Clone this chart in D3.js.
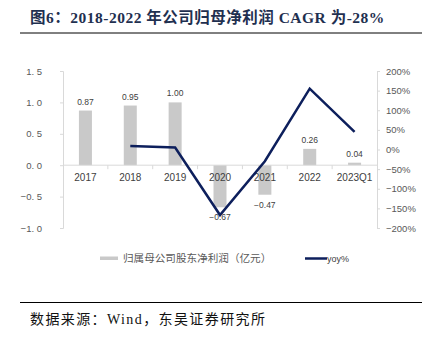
<!DOCTYPE html>
<html><head><meta charset="utf-8">
<script src="https://cdn.jsdelivr.net/npm/d3@7"></script>
<style>body{margin:0;background:#fff}svg{display:block}</style>
</head><body><svg id="c" width="432" height="338"></svg>
<script>
const categories = ["2017","2018","2019","2020","2021","2022","2023Q1"];
const profit = [0.87,0.95,1.00,-0.67,-0.47,0.26,0.04];
const yoy = [null,0.09,0.05,-1.67,-0.30,1.55,0.45];
const leftTicks = [-1.0,-0.5,0,0.5,1.0,1.5];
const rightTicks = [-2,-1.5,-1,-0.5,0,0.5,1,1.5,2];

const svg = d3.select("#c");
const cjk = "'Liberation Serif','Noto Sans CJK SC',serif";
const sans = "'Liberation Sans',Arial,sans-serif";

// title
svg.append("text").attr("x",30).attr("y",22.5).attr("font-family",cjk).attr("font-weight","bold")
  .attr("font-size",15.5).attr("letter-spacing",0.5).attr("fill","#1f3050").text("图6：2018-2022 年公司归母净利润 CAGR 为-28%");
svg.append("line").attr("x1",20).attr("x2",422).attr("y1",33).attr("y2",33).attr("stroke","#000").attr("stroke-width",1);
svg.append("line").attr("x1",20).attr("x2",422).attr("y1",302.5).attr("y2",302.5).attr("stroke","#000").attr("stroke-width",1);
svg.append("text").attr("x",30).attr("y",324).attr("font-family",cjk).attr("font-size",14)
  .attr("letter-spacing",1.4).attr("fill","#111").text("数据来源：Wind，东吴证券研究所");

const x = d3.scaleBand().domain(categories).range([63,377]).padding(0);
const yL = d3.scaleLinear().domain([-1,1.5]).range([228,71]);
const yR = d3.scaleLinear().domain([-2,2]).range([228,71]);
const axisCol = "#d9d9d9", txtCol = "#595959";

// left axis
const gl = svg.append("g").attr("transform","translate(63,0)")
  .call(d3.axisLeft(yL).tickValues(leftTicks).tickSize(3).tickPadding(18)
    .tickFormat(d=>d3.format(".1f")(d).replace("-","−").replace(".",". ")));
gl.select(".domain").attr("stroke",axisCol);
gl.selectAll(".tick line").attr("stroke",axisCol);
gl.selectAll("text").attr("font-family",sans).attr("font-size",9.5).attr("fill",txtCol);

// right axis
const gr = svg.append("g").attr("transform","translate(377,0)")
  .call(d3.axisRight(yR).tickValues(rightTicks).tickSize(3).tickPadding(6)
    .tickFormat(d=>d3.format(".0%")(d).replace("-","−")));
gr.select(".domain").attr("stroke",axisCol);
gr.selectAll(".tick line").attr("stroke",axisCol);
gr.selectAll("text").attr("font-family",sans).attr("font-size",9.5).attr("fill",txtCol);

// bars
const bw = x.bandwidth()*0.29;
svg.append("g").selectAll("rect").data(profit).join("rect")
  .attr("x",(d,i)=>x(categories[i])+x.bandwidth()/2-bw/2)
  .attr("y",d=>yL(Math.max(0,d)))
  .attr("width",bw)
  .attr("height",d=>Math.abs(yL(d)-yL(0)))
  .attr("fill","#c9c9c9");

// x axis
const y0 = yL(0);
svg.append("line").attr("x1",63).attr("x2",377).attr("y1",y0).attr("y2",y0).attr("stroke",axisCol);
svg.append("g").selectAll("line").data(categories.slice(1)).join("line")
  .attr("x1",d=>x(d)).attr("x2",d=>x(d)).attr("y1",y0).attr("y2",y0+4).attr("stroke",axisCol);
svg.append("g").selectAll("text").data(categories).join("text")
  .attr("x",d=>x(d)+x.bandwidth()/2).attr("y",y0+16).attr("text-anchor","middle")
  .attr("font-family",sans).attr("font-size",10).attr("fill","#404040").text(d=>d);

// bar labels
svg.append("g").selectAll("text").data(profit).join("text")
  .attr("x",(d,i)=>x(categories[i])+x.bandwidth()/2)
  .attr("y",d=>d>=0? yL(d)-6 : yL(d)+13)
  .attr("text-anchor","middle").attr("font-family",sans).attr("font-size",8.5).attr("fill","#404040")
  .text(d=>d3.format(".2f")(d));

// line
const pts = yoy.map((v,i)=>({c:categories[i],v})).filter(p=>p.v!==null);
svg.append("path").datum(pts)
  .attr("d",d3.line().x(p=>x(p.c)+x.bandwidth()/2).y(p=>yR(p.v)))
  .attr("fill","none").attr("stroke","#0d1f5c").attr("stroke-width",2.5).attr("stroke-linejoin","miter");

// legend
svg.append("rect").attr("x",100).attr("y",256.5).attr("width",18).attr("height",3.5).attr("fill","#c9c9c9");
svg.append("text").attr("x",123).attr("y",262).attr("font-family","'Noto Sans CJK SC',sans-serif")
  .attr("font-size",10.6).attr("fill","#595959").text("归属母公司股东净利润（亿元）");
svg.append("line").attr("x1",305).attr("x2",327).attr("y1",258.5).attr("y2",258.5).attr("stroke","#0d1f5c").attr("stroke-width",2.5);
svg.append("text").attr("x",327).attr("y",262).attr("font-family",sans)
  .attr("font-size",9).attr("fill","#404040").text("yoy%");
</script></body></html>
